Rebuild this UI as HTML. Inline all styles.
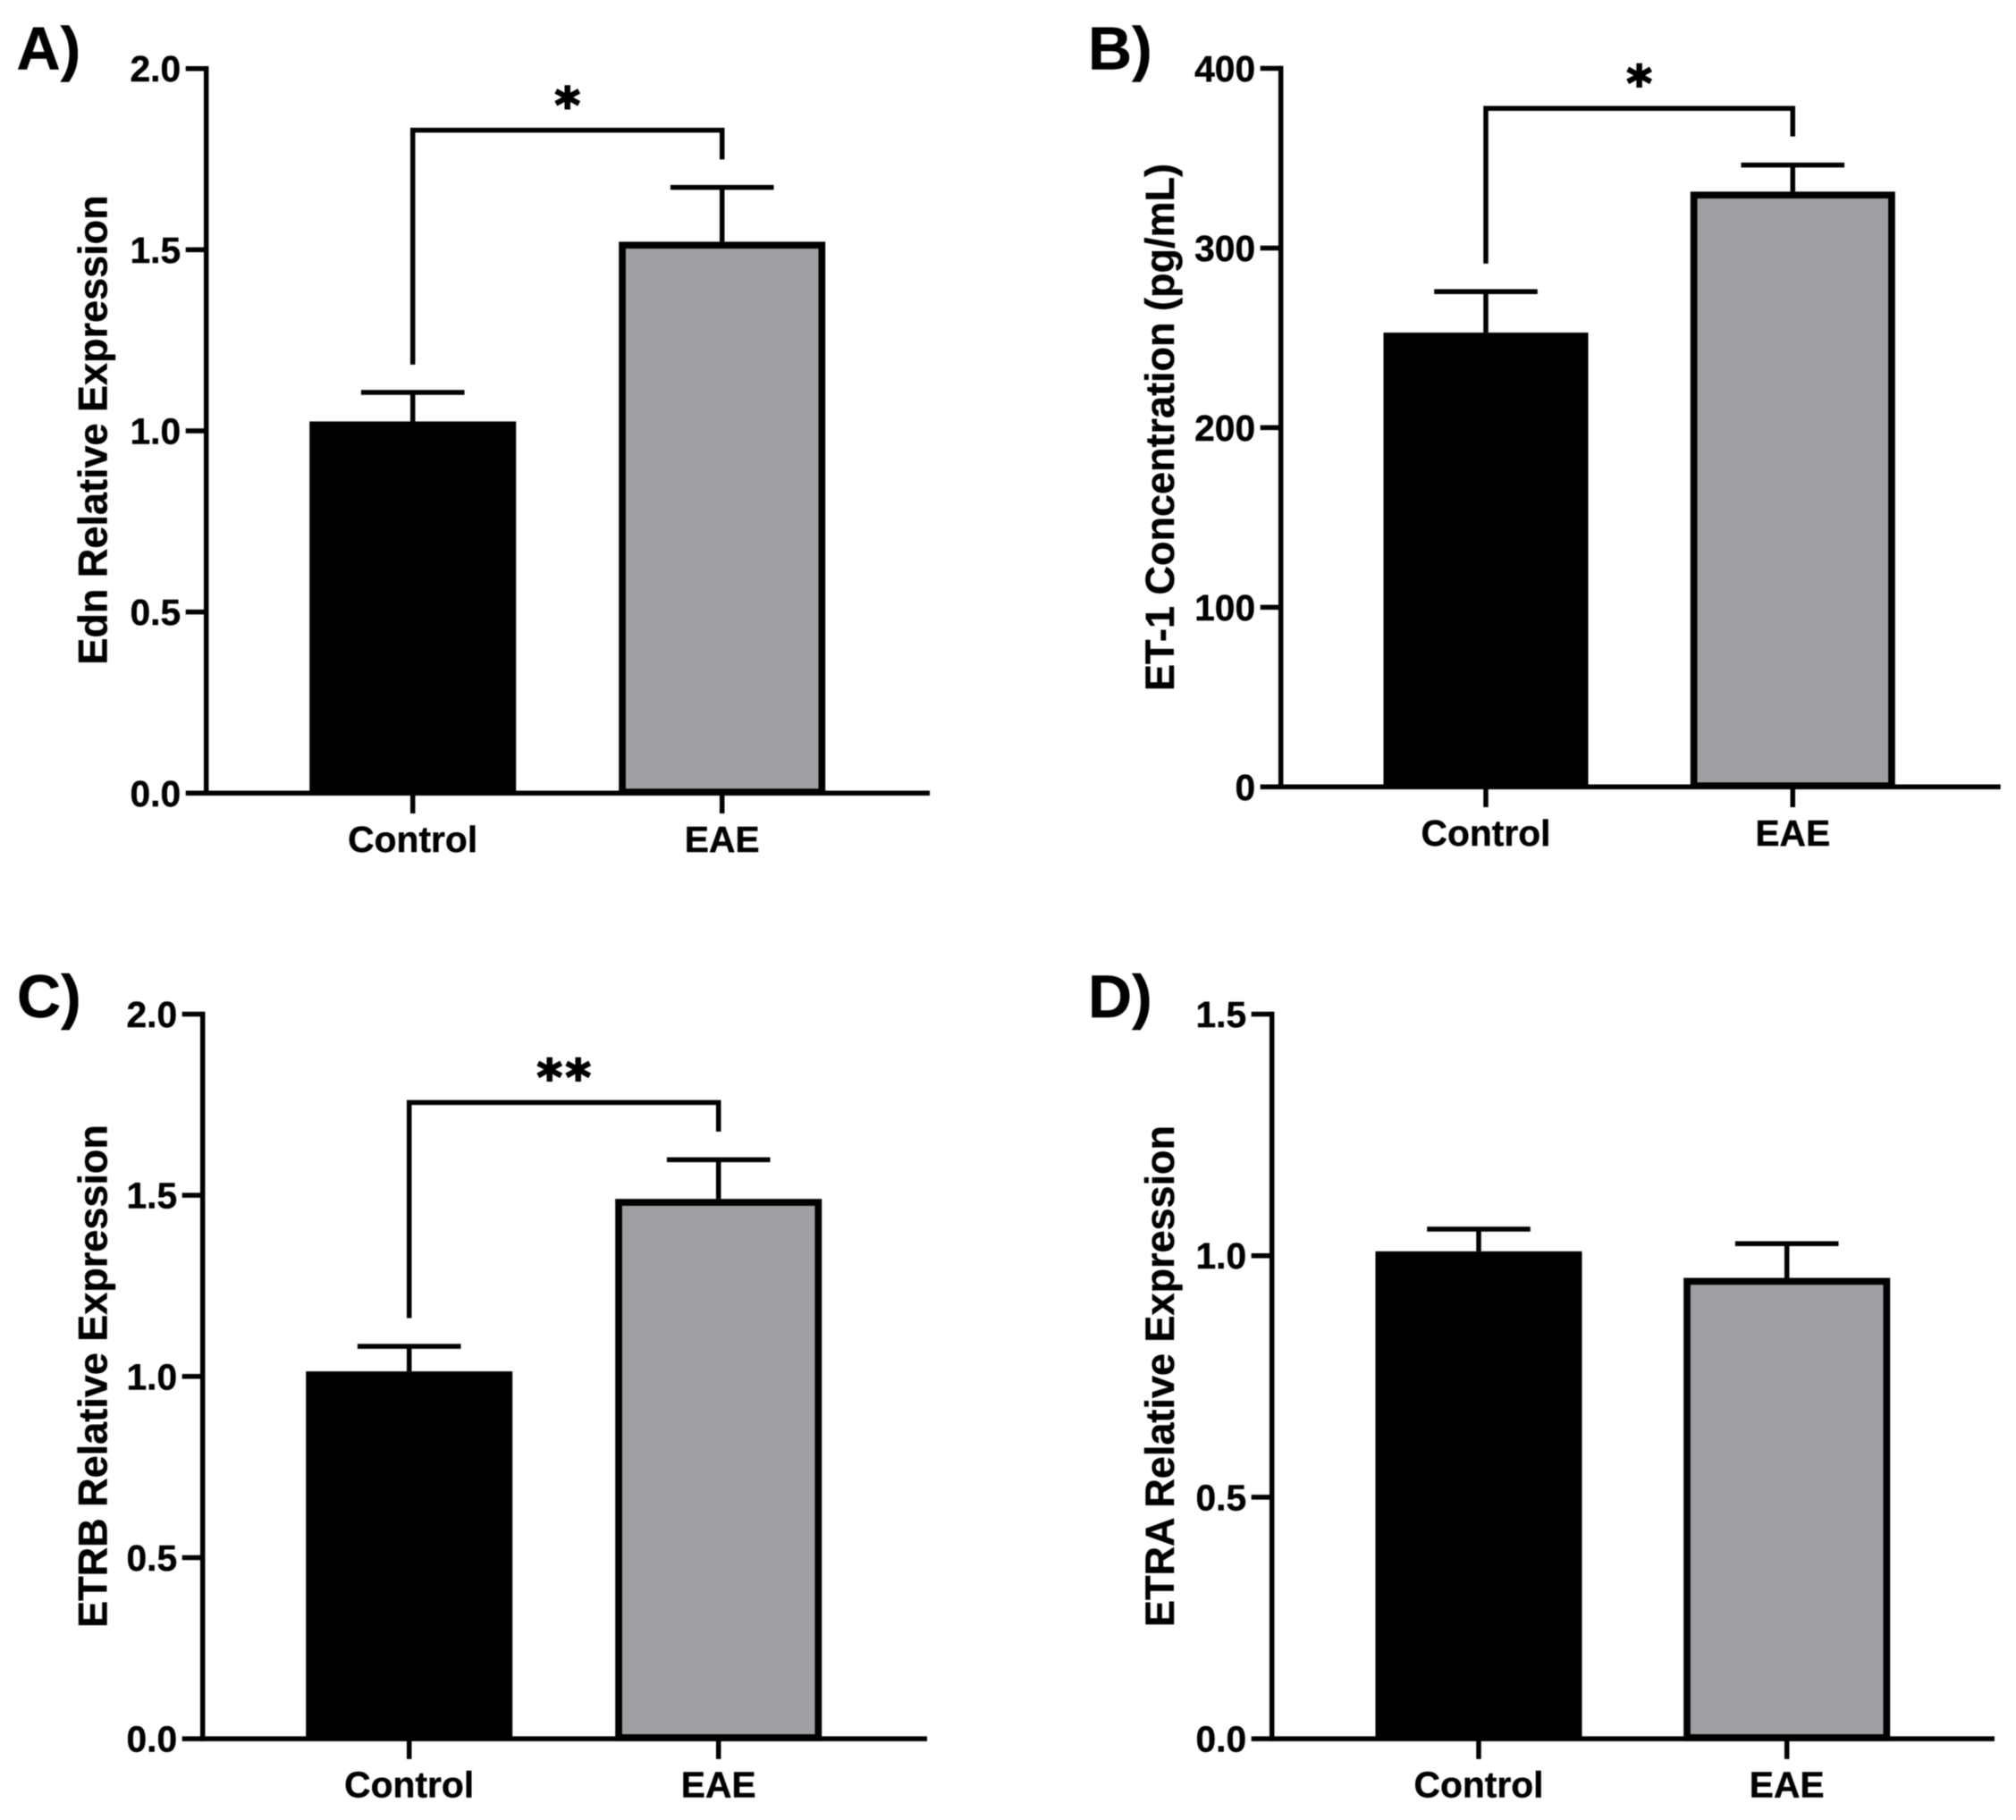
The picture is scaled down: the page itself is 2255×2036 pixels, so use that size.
<!DOCTYPE html>
<html lang="en">
<head>
<meta charset="utf-8">
<title>Endothelin expression bar charts</title>
<style>
  html, body { margin: 0; padding: 0; background: #fff; }
  svg { display: block; filter: blur(0.5px); }
  text { font-family: "Liberation Sans", Arial, sans-serif; font-weight: 700; fill: #000; stroke: #000; stroke-width: 0.4px; }
  .tick { font-size: 40.8px; }
  .title { font-size: 45px; text-anchor: middle; }
  .letter { font-size: 68px; }
  .star { font-family: "DejaVu Sans", sans-serif; font-size: 54px; text-anchor: middle; stroke-width: 2px; }
</style>
</head>
<body>
<svg id="figure" xmlns="http://www.w3.org/2000/svg" width="2255" height="2036" viewBox="0 0 2255 2036">
  <rect width="2255" height="2036" fill="#ffffff"/>
  <text class="letter" x="18.5" y="77.5">A)</text>
  <text class="letter" x="1217" y="77.5">B)</text>
  <text class="letter" x="19" y="1138">C)</text>
  <text class="letter" x="1217" y="1138">D)</text>
  <text class="title" transform="translate(119.5 481) rotate(-90)">Edn Relative Expression</text>
  <text class="title" transform="translate(1313 478) rotate(-90)">ET-1 Concentration (pg/mL)</text>
  <text class="title" transform="translate(119.5 1539.5) rotate(-90)">ETRB Relative Expression</text>
  <text class="title" transform="translate(1313 1539.5) rotate(-90)">ETRA Relative Expression</text>
</svg>
<script>
// Chart data
const categories = ['Control', 'EAE'];

const panelAValues = [1.026, 1.522];
const panelAErrors = [0.080, 0.150];
const panelATicks = ['0.0', '0.5', '1.0', '1.5', '2.0'];
const panelABracket = [1.830, 1.183, 1.749];
const panelASignificance = '*';

const panelBValues = [252.9, 331.4];
const panelBErrors = [22.8, 14.8];
const panelBTicks = ['0', '100', '200', '300', '400'];
const panelBBracket = [377.7, 291.3, 362.1];
const panelBSignificance = '*';

const panelCValues = [1.014, 1.490];
const panelCErrors = [0.069, 0.108];
const panelCTicks = ['0.0', '0.5', '1.0', '1.5', '2.0'];
const panelCBracket = [1.756, 1.161, 1.676];
const panelCSignificance = '**';

const panelDValues = [1.009, 0.954];
const panelDErrors = [0.046, 0.071];
const panelDTicks = ['0.0', '0.5', '1.0', '1.5'];

// Layout
const panels = [
  { id: 'panel-a', values: panelAValues, errors: panelAErrors, ticks: panelATicks, bracket: panelABracket, sig: panelASignificance,
    axisX: 230.7, axisEnd: 1040, top: 76.7, base: 887.3, firstX: 461.7, stepX: 346, barW: 231 },
  { id: 'panel-b', values: panelBValues, errors: panelBErrors, ticks: panelBTicks, bracket: panelBBracket, sig: panelBSignificance,
    axisX: 1432.7, axisEnd: 2237.7, top: 76.5, base: 880.3, firstX: 1662, stepX: 343.3, barW: 229 },
  { id: 'panel-c', values: panelCValues, errors: panelCErrors, ticks: panelCTicks, bracket: panelCBracket, sig: panelCSignificance,
    axisX: 226.7, axisEnd: 1037, top: 1134.5, base: 1945.1, firstX: 457.7, stepX: 346, barW: 231 },
  { id: 'panel-d', values: panelDValues, errors: panelDErrors, ticks: panelDTicks, bracket: null, sig: '',
    axisX: 1422.7, axisEnd: 2231, top: 1134.5, base: 1945.1, firstX: 1654, stepX: 344.7, barW: 231 }
];

const SVG_NS = 'http://www.w3.org/2000/svg';
const figure = document.getElementById('figure');
const LINE = 5.5;
const BAR_STROKE = 7.7;
const GREY = '#a19fa3';

function make(tag, attrs, text) {
  const el = document.createElementNS(SVG_NS, tag);
  for (const k in attrs) el.setAttribute(k, attrs[k]);
  if (text !== undefined) el.textContent = text;
  figure.appendChild(el);
  return el;
}

function drawLine(x1, y1, x2, y2) {
  return make('line', { x1: x1, y1: y1, x2: x2, y2: y2, stroke: '#000', 'stroke-width': LINE });
}

panels.forEach(function (p) {
  const maxTick = parseFloat(p.ticks[p.ticks.length - 1]);
  const yScale = function (v) { return p.base - (v / maxTick) * (p.base - p.top); };
  const xScale = function (i) { return p.firstX + i * p.stepX; };

  // bars
  p.values.forEach(function (v, i) {
    const cx = xScale(i);
    const yTop = yScale(v);
    let bar;
    if (i === 0) {
      bar = make('rect', { x: cx - p.barW / 2, y: yTop, width: p.barW, height: p.base - yTop, fill: '#000' });
    } else {
      bar = make('rect', {
        x: cx - p.barW / 2 + BAR_STROKE / 2,
        y: yTop + BAR_STROKE / 2,
        width: p.barW - BAR_STROKE,
        height: p.base - 1.2 - yTop - BAR_STROKE / 2,
        fill: GREY, stroke: '#000', 'stroke-width': BAR_STROKE
      });
    }
    
    

    // error bar
    const yCap = yScale(v + p.errors[i]);
    const stem = drawLine(cx, yTop, cx, yCap);
    
    
    const cap = drawLine(cx - 57.8, yCap, cx + 57.8, yCap);
    
    
  });

  // y axis
  const yAxis = drawLine(p.axisX, p.top - LINE / 2, p.axisX, p.base + LINE / 2);
  
  

  p.ticks.forEach(function (t) {
    const y = yScale(parseFloat(t));
    const tick = drawLine(p.axisX - 23, y, p.axisX, y);
    
    
    const label = make('text', { class: 'tick', x: p.axisX - 28.5, y: y + 14.5, 'text-anchor': 'end' }, t);
    
    
  });

  // x axis
  const xAxis = drawLine(p.axisX, p.base, p.axisEnd, p.base);
  
  

  categories.forEach(function (c, i) {
    const cx = xScale(i);
    const tick = drawLine(cx, p.base, cx, p.base + 22.7);
    
    
    const label = make('text', { class: 'tick', x: cx, y: p.base + 65.5, 'text-anchor': 'middle' }, c);
    
    
  });

  // significance bracket
  if (p.bracket) {
    const yT = yScale(p.bracket[0]);
    const yL = yScale(p.bracket[1]);
    const yR = yScale(p.bracket[2]);
    const x0 = xScale(0);
    const x1 = xScale(1);
    const path = make('path', {
      d: 'M' + x0 + ' ' + yL + 'V' + yT + 'H' + x1 + 'V' + yR,
      fill: 'none', stroke: '#000', 'stroke-width': LINE, 'stroke-linejoin': 'miter'
    });
    
    

    const mid = (x0 + x1) / 2;
    const n = p.sig.length;
    for (let k = 0; k < n; k++) {
      const star = make('text', {
        class: 'star',
        x: mid + (k - (n - 1) / 2) * 32,
        y: yT - 37.3 + 28
      }, p.sig[k]);
      
      
    }
  }
});
</script>
</body>
</html>
